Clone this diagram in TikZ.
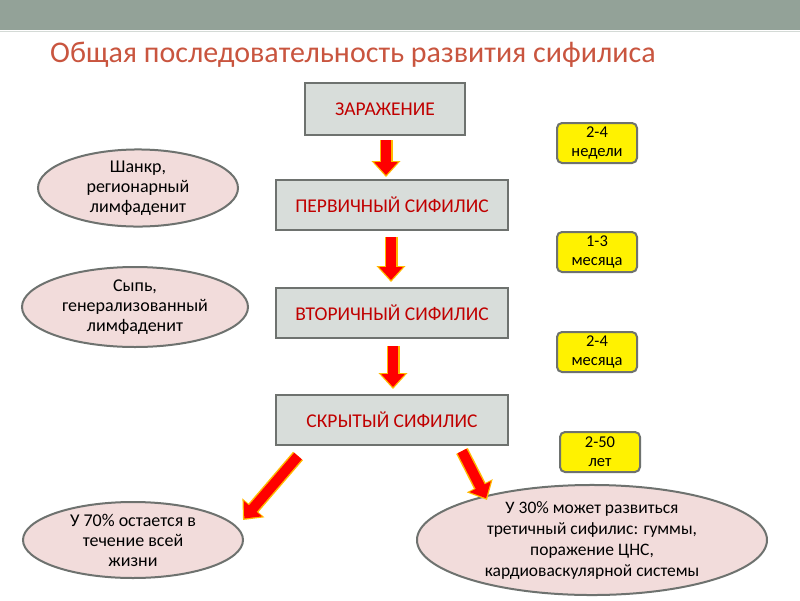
\documentclass[tikz,border=0pt]{standalone}
\usepackage{fontspec}
\setmainfont{Carlito}
\usetikzlibrary{arrows.meta,calc,shapes.geometric}
\definecolor{band}{HTML}{93A298}
\definecolor{titlec}{HTML}{C9553F}
\definecolor{boxfill}{HTML}{D8DDDA}
\definecolor{edge}{HTML}{6E726F}
\definecolor{pinkf}{HTML}{F2DCDB}
\definecolor{darkred}{HTML}{C00000}
\definecolor{glow}{HTML}{FFB900}
\begin{document}
\begin{tikzpicture}[x=1pt,y=-1pt,
  stagebox/.style={draw=edge,line width=2pt,fill=boxfill,minimum height=50pt,
    text=darkred,font=\fontsize{19.5}{22}\selectfont,inner sep=0pt},
  timebox/.style={draw=edge,line width=2pt,fill=yellow,rounded corners=5pt,
    minimum width=80pt,minimum height=40pt,align=center,inner sep=0pt,
    font=\fontsize{16.5}{19}\selectfont},
  oval/.style={ellipse,draw=edge,line width=2pt,fill=pinkf,align=center,inner sep=0pt,
    font=\fontsize{18}{20}\selectfont},
  blockarr/.style={draw=red,line width=10pt,-{Triangle[width=23pt,length=13pt]},shorten >=2pt,
    preaction={draw=glow,line width=13pt,-{Triangle[width=28pt,length=16pt]},shorten >=0pt}}]
\useasboundingbox (0,0) rectangle (800,600);
\fill[white] (0,0) rectangle (800,600);
\fill[band] (0,0) rectangle (800,30);
\draw[band!40,line width=1pt] (0,31) -- (800,31);
\node[anchor=base west,text=titlec,font=\fontsize{30}{32}\selectfont,inner sep=0pt] (title) at (50,62) {Общая последовательность развития сифилиса};
% stage boxes
\node[stagebox,minimum width=160pt,minimum height=52pt] (zar) at (385,109) {ЗАРАЖЕНИЕ};
\node[stagebox,minimum width=232pt] (perv) at (392,205) {ПЕРВИЧНЫЙ СИФИЛИС};
\node[stagebox,minimum width=232pt] (vtor) at (392,313) {ВТОРИЧНЫЙ СИФИЛИС};
\node[stagebox,minimum width=232pt] (skr) at (392,420) {СКРЫТЫЙ СИФИЛИС};
% time boxes
\node[timebox] (t1) at (597,143) {2-4\\недели};
\node[timebox] (t2) at (597,252) {1-3\\месяца};
\node[timebox] (t3) at (597,352) {2-4\\месяца};
\node[timebox] (t4) at (600,452) {2-50\\лет};
% ovals
\node[oval,minimum width=200pt,minimum height=74pt] (e1) at (138,188) {Шанкр,\\регионарный\\лимфаденит};
\node[oval,minimum width=226pt,minimum height=80pt] (e2) at (135,307) {Сыпь,\\генерализованный\\лимфаденит};
\node[oval,minimum width=220pt,minimum height=76pt] (e3) at (133,540) {У 70\% остается в\\течение всей\\жизни};
\node[oval,minimum width=350pt,minimum height=90pt,font=\fontsize{17.5}{21}\selectfont] (e4) at (592,540) {У 30\% может развиться\\третичный сифилис: гуммы,\\поражение ЦНС,\\кардиоваскулярной системы};
% arrows
\coordinate (a1s) at ($(zar.south)+(1,4)$);
\coordinate (a1e) at ($(perv.north)+(-6,-2)$);
\coordinate (a2s) at ($(perv.south)+(-1,6)$);
\coordinate (a2e) at ($(vtor.north)+(-1,-5)$);
\coordinate (a3s) at ($(vtor.south)+(1,7)$);
\coordinate (a3e) at ($(skr.north)+(1,-5)$);
\draw[blockarr] (a1s) -- (a1e);
\draw[blockarr] (a2s) -- (a2e);
\draw[blockarr] (a3s) -- (a3e);
\coordinate (d1s) at ($(skr.south)+(-94,10)$);
\coordinate (d1e) at (243,520);
\coordinate (d2s) at ($(skr.south)+(70,5)$);
\coordinate (d2e) at (487,500);
\draw[blockarr] (d1s) -- (d1e);
\draw[blockarr] (d2s) -- (d2e);
\end{tikzpicture}
\end{document}
